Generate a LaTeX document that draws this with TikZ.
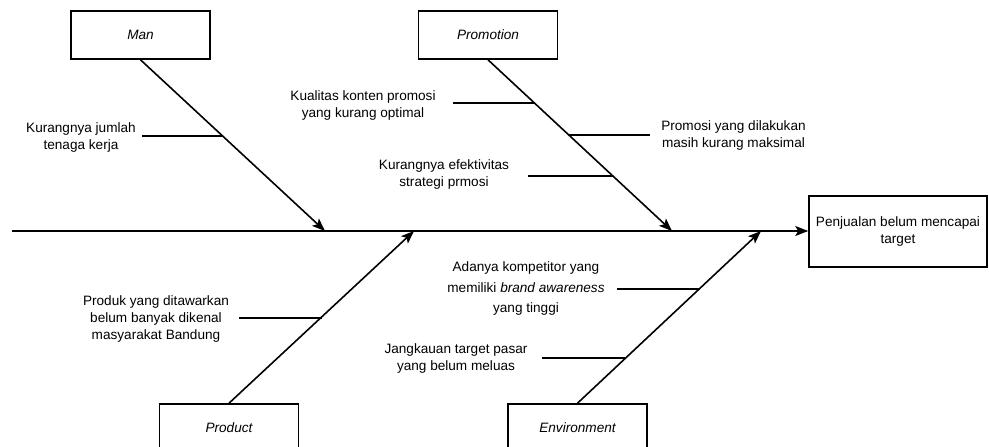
\documentclass[tikz,border=0pt]{standalone}
\usepackage{fontspec}
\setmainfont{Liberation Sans}
\usetikzlibrary{arrows.meta}
\begin{document}
\begin{tikzpicture}[x=1pt,y=-1pt,
  every node/.style={font=\fontsize{13.6}{17}\selectfont},
  cat/.style={draw,line width=1.6pt,minimum width=139pt,minimum height=48pt,inner sep=0pt,font=\fontsize{13.6}{17}\selectfont\itshape},
  effectbox/.style={draw,line width=1.6pt,minimum width=178pt,minimum height=71pt,inner sep=0pt,align=center},
  lbl/.style={align=center,inner sep=0pt},
  bone/.style={line width=1.6pt,-{Stealth[length=13pt,width=10pt,inset=3pt]}},
  sub/.style={line width=1.6pt}]
\clip (0,0) rectangle (989,447);
\useasboundingbox (0,0) rectangle (989,447);
% category boxes
\node[cat] (man) at (140.5,35) {Man};
\node[cat] (prom) at (488,35) {Promotion};
\node[cat] (prod) at (229,428) {Product};
\node[cat] (env) at (577.5,428) {Environment};
\node[effectbox] (eff) at (898,231.5) {Penjualan belum mencapai\\target};
% spine
\coordinate (s0) at (12,231);
\coordinate (tman) at (325,231);
\coordinate (tprom) at (672,231);
\coordinate (tprod) at (414,231);
\coordinate (tenv) at (761,231);
\draw[bone] (s0) -- (s0 -| eff.west);
\draw[bone] (man.south) -- (tman);
\draw[bone] (prom.south) -- (tprom);
\draw[bone] (prod.north) -- (tprod);
\draw[bone] (env.north) -- (tenv);
% labels
\node[lbl] (l1) at (81,137) {Kurangnya jumlah\\tenaga kerja};
\node[lbl] (l2) at (363,105) {Kualitas konten promosi\\yang kurang optimal};
\node[lbl] (l3) at (733.5,135) {Promosi yang dilakukan\\masih kurang maksimal};
\node[lbl] (l4) at (444,174.5) {Kurangnya efektivitas\\strategi prmosi};
\node[lbl] (l5) at (156,318.5) {Produk yang ditawarkan\\belum banyak dikenal\\masyarakat Bandung};
\node[lbl,font=\fontsize{13.6}{20.5}\selectfont] (l6) at (526,288.5) {Adanya kompetitor yang\\memiliki \textit{brand awareness}\\yang tinggi};
\node[lbl] (l7) at (456,358.5) {Jangkauan target pasar\\yang belum meluas};
% sub-branches
\coordinate (a1) at (142,136); \coordinate (b1) at (223,136);
\coordinate (a2) at (453,103); \coordinate (b2) at (535,103);
\coordinate (a3) at (650,135); \coordinate (b3) at (569,135);
\coordinate (a4) at (528,176); \coordinate (b4) at (613,176);
\coordinate (a5) at (239,318); \coordinate (b5) at (322,318);
\coordinate (a6) at (617,289); \coordinate (b6) at (700,289);
\coordinate (a7) at (542,358); \coordinate (b7) at (625,358);
\draw[sub] (a1) -- (b1);
\draw[sub] (a2) -- (b2);
\draw[sub] (a3) -- (b3);
\draw[sub] (a4) -- (b4);
\draw[sub] (a5) -- (b5);
\draw[sub] (a6) -- (b6);
\draw[sub] (a7) -- (b7);
\end{tikzpicture}
\end{document}
